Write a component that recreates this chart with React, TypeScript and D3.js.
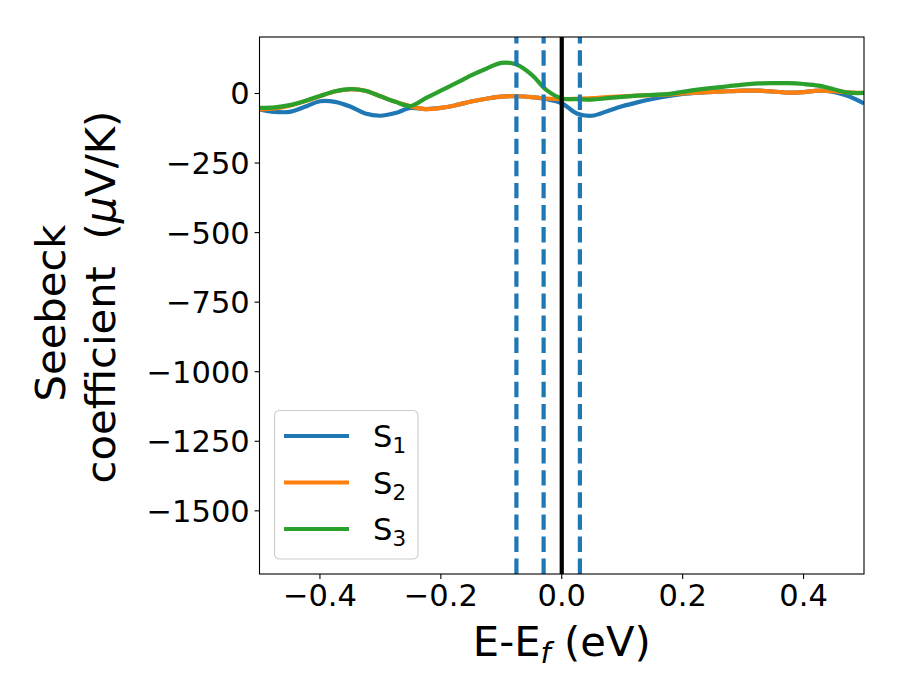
import { useEffect, useRef } from 'react'
import * as d3 from 'd3'

// energy grid (eV) relative to Fermi level
const energy = [
	-0.5, -0.475, -0.45, -0.425, -0.4, -0.375, -0.35, -0.325, -0.3, -0.275, -0.25, -0.225, -0.2, -0.175,
	-0.15, -0.125, -0.1, -0.075, -0.05, -0.025, 0, 0.025, 0.05, 0.075, 0.1, 0.125, 0.15, 0.175, 0.2,
	0.225, 0.25, 0.275, 0.3, 0.325, 0.35, 0.375, 0.4, 0.425, 0.45, 0.475, 0.5,
]

// Seebeck coefficient (uV/K)
const s1 = [
	-57, -66, -66, -48, -28, -30, -47, -72, -80, -70, -52, -56, -52, -42, -29, -19, -11, -10, -13, -20,
	-35, -72, -80, -64, -46, -32, -20, -10, -2, 3, 6, 8, 10, 10, 7, 3, 5, 10, 6, -10, -36,
]
const s2 = [
	-57, -54, -44, -28, -10, 7, 15, 10, -10, -30, -46, -56, -52, -42, -29, -19, -11, -10, -13, -18,
	-20, -19, -17, -13, -10, -8, -6, -4, 0, 3, 6, 8, 10, 10, 7, 3, 5, 10, 8, 4, 2,
]
const s3 = [
	-52, -50, -42, -27, -9, 8, 16, 10, -10, -30, -45, -17, 10, 37, 65, 89, 110, 104, 68, 12, -18, -20,
	-22, -17, -12, -8, -5, -2, 6, 14, 20, 26, 32, 36, 37, 37, 34, 28, 15, 3, 2,
]

const seriesNames = ['1', '2', '3']
const seriesColors = ['#1f77b4', '#ff7f0e', '#2ca02c']

// vertical markers
const dashedLines = [-0.075, -0.03, 0.03]
const fermiLine = 0

const xTicks = [-0.4, -0.2, 0, 0.2, 0.4]
const yTicks = [0, -250, -500, -750, -1000, -1250, -1500]
const xDomain = [-0.5, 0.5]
const yDomain = [-1727, 203]

const FONT = 'DejaVu Sans'

const SeebeckChart = () => {
	const svgRef = useRef(null)

	useEffect(() => {
		const margin = { top: 37, right: 36, bottom: 126, left: 259.5 }
		const W = 900
		const H = 700
		const width = W - margin.left - margin.right
		const height = H - margin.top - margin.bottom

		d3.select(svgRef.current).selectAll('*').remove()

		const root = d3.select(svgRef.current).attr('width', W).attr('height', H)
		const svg = root.append('g').attr('transform', `translate(${margin.left},${margin.top})`)

		const x = d3.scaleLinear().domain(xDomain).range([0, width])
		const y = d3.scaleLinear().domain(yDomain).range([height, 0])

		root
			.append('defs')
			.append('clipPath')
			.attr('id', 'plot-clip')
			.append('rect')
			.attr('width', width)
			.attr('height', height)

		const plot = svg.append('g').attr('clip-path', 'url(#plot-clip)')

		const line = d3
			.line()
			.x((d) => x(d[0]))
			.y((d) => y(d[1]))
			.curve(d3.curveCatmullRom.alpha(0.5))

		;[s1, s2, s3].forEach((vals, i) => {
			plot
				.append('path')
				.datum(energy.map((e, j) => [e, vals[j]]))
				.attr('d', line)
				.attr('fill', 'none')
				.attr('stroke', seriesColors[i])
				.attr('stroke-width', 4.2)
				.attr('stroke-linejoin', 'round')
		})

		// Fermi level
		plot
			.append('line')
			.attr('x1', x(fermiLine))
			.attr('x2', x(fermiLine))
			.attr('y1', height)
			.attr('y2', 0)
			.attr('stroke', 'black')
			.attr('stroke-width', 4.2)

		// dashed markers, dash pattern starts at the bottom like axvline
		plot
			.selectAll('line.dash')
			.data(dashedLines)
			.enter()
			.append('line')
			.attr('class', 'dash')
			.attr('x1', (d) => x(d))
			.attr('x2', (d) => x(d))
			.attr('y1', height)
			.attr('y2', 0)
			.attr('stroke', '#1f77b4')
			.attr('stroke-width', 4.2)
			.attr('stroke-dasharray', '15.4,6.7')

		// frame
		svg
			.append('rect')
			.attr('width', width)
			.attr('height', height)
			.attr('fill', 'none')
			.attr('stroke', 'black')
			.attr('stroke-width', 1.1)

		const fmt = (v, digits) => {
			const s = Math.abs(v).toFixed(digits)
			return v < 0 ? '\u2212' + s : s
		}

		// x axis
		const xg = svg.append('g').attr('transform', `translate(0,${height})`)
		xTicks.forEach((t) => {
			xg.append('line')
				.attr('x1', x(t))
				.attr('x2', x(t))
				.attr('y1', 0)
				.attr('y2', 4.9)
				.attr('stroke', 'black')
				.attr('stroke-width', 1.1)
			xg.append('text')
				.attr('x', x(t))
				.attr('y', 32)
				.attr('text-anchor', 'middle')
				.attr('font-family', FONT)
				.attr('font-size', 30.5)
				.text(fmt(t, 1))
		})

		// y axis
		const yg = svg.append('g')
		yTicks.forEach((t) => {
			yg.append('line')
				.attr('x1', 0)
				.attr('x2', -4.9)
				.attr('y1', y(t))
				.attr('y2', y(t))
				.attr('stroke', 'black')
				.attr('stroke-width', 1.1)
			yg.append('text')
				.attr('x', -9.8)
				.attr('y', y(t) + 11)
				.attr('text-anchor', 'end')
				.attr('font-family', FONT)
				.attr('font-size', 30.5)
				.text(fmt(t, 0))
		})

		// x label
		const xl = root
			.append('text')
			.attr('x', margin.left + width / 2)
			.attr('y', 656)
			.attr('text-anchor', 'middle')
			.attr('font-family', FONT)
			.attr('font-size', 41.7)
			.style('white-space', 'pre')
		xl.append('tspan').text('E-E')
		xl.append('tspan').attr('font-size', 29).attr('font-style', 'italic').attr('dy', 7).text('f')
		xl.append('tspan').attr('dy', -7).text(' (eV)')

		// y label (two lines)
		root
			.append('text')
			.attr('transform', 'translate(65,313) rotate(-90)')
			.attr('text-anchor', 'middle')
			.attr('font-family', FONT)
			.attr('font-size', 41.7)
			.text('Seebeck')
		const yl = root
			.append('text')
			.attr('transform', 'translate(115,297) rotate(-90)')
			.attr('text-anchor', 'middle')
			.attr('font-family', FONT)
			.attr('font-size', 41.7)
			.style('white-space', 'pre')
		yl.append('tspan').text('coefficient  (')
		yl.append('tspan').attr('font-style', 'italic').text('\u03bc')
		yl.append('tspan').text('V/K)')

		// legend
		const lg = root.append('g')
		lg.append('rect')
			.attr('x', 274.5)
			.attr('y', 410.5)
			.attr('width', 143.5)
			.attr('height', 148.5)
			.attr('rx', 5)
			.attr('fill', 'white')
			.attr('fill-opacity', 0.8)
			.attr('stroke', '#cccccc')
			.attr('stroke-width', 1.1)
		seriesNames.forEach((name, i) => {
			const ly = 436 + i * 46.5
			lg.append('line')
				.attr('x1', 284)
				.attr('x2', 349)
				.attr('y1', ly)
				.attr('y2', ly)
				.attr('stroke', seriesColors[i])
				.attr('stroke-width', 4.2)
			const t = lg
				.append('text')
				.attr('x', 373)
				.attr('y', ly + 11)
				.attr('font-family', FONT)
				.attr('font-size', 30.5)
			t.append('tspan').text('S')
			t.append('tspan').attr('font-size', 21.5).attr('dy', 6).text(name)
		})
	}, [])

	return <svg ref={svgRef} style={{ position: 'absolute', left: 0, top: 0 }}></svg>
}

export default function App() {
	return <SeebeckChart />
}
